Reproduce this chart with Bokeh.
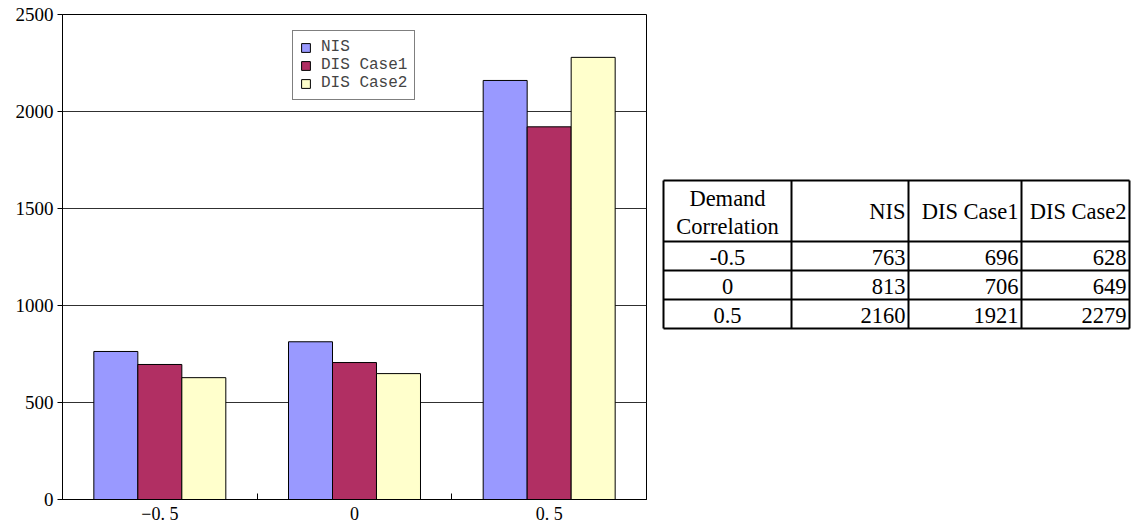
from bokeh.plotting import figure
from bokeh.layouts import row
from bokeh.models import FixedTicker, Legend, LegendItem, ColumnDataSource, Range1d
from bokeh.embed import file_html
from bokeh.resources import INLINE

# Data
categories = ["-0.5", "0", "0.5"]
tick_labels = ["\u22120. 5", "0", "0. 5"]
series_names = ["NIS", "DIS Case1", "DIS Case2"]
nis = [763, 813, 2160]
dis_case1 = [696, 706, 1921]
dis_case2 = [628, 649, 2279]
y_ticks = [0, 500, 1000, 1500, 2000, 2500]

colors = ["#9999FF", "#B12F63", "#FFFFCC"]
axis_font = "Liberation Serif"

# ---- bar chart ----
p = figure(width=660, height=527, output_backend="svg", toolbar_location=None,
           x_range=(0, 3), y_range=(0, 2500),
           min_border_left=62, min_border_right=14, min_border_top=14, min_border_bottom=28)
p.outline_line_color = "black"
p.outline_line_width = 1
p.xgrid.visible = False
p.ygrid.grid_line_color = "#303030"
p.ygrid.grid_line_width = 1
p.ygrid.ticker = FixedTicker(ticks=y_ticks)

bar_w = 0.226
offsets = [-bar_w, 0, bar_w]
centers = [i + 0.5 for i in range(len(categories))]
renderers = []
for vals, off, col in zip([nis, dis_case1, dis_case2], offsets, colors):
    src = ColumnDataSource(dict(x=[c + off for c in centers], top=vals))
    r = p.vbar(x="x", top="top", width=bar_w, source=src, fill_color=col,
               line_color="black", line_width=1)
    renderers.append(r)

# axes
p.xaxis.ticker = FixedTicker(ticks=centers, minor_ticks=[0, 1, 2, 3])
p.xaxis.major_label_overrides = {c: t for c, t in zip(centers, tick_labels)}
p.xaxis.major_tick_line_color = None
p.xaxis.major_tick_in = 0
p.xaxis.major_tick_out = 0
p.xaxis.minor_tick_in = 6
p.xaxis.minor_tick_out = 0
p.xaxis.minor_tick_line_color = "black"
p.xaxis.axis_line_color = "black"
p.xaxis.major_label_text_font = axis_font
p.xaxis.major_label_text_font_size = "18px"
p.xaxis.major_label_text_color = "black"
p.xaxis.major_label_standoff = 4

p.yaxis.ticker = FixedTicker(ticks=y_ticks)
p.yaxis.major_tick_in = 0
p.yaxis.major_tick_out = 5
p.yaxis.minor_tick_line_color = None
p.yaxis.axis_line_color = "black"
p.yaxis.major_tick_line_color = "black"
p.yaxis.major_label_text_font = axis_font
p.yaxis.major_label_text_font_size = "19px"
p.yaxis.major_label_text_color = "black"
p.yaxis.major_label_standoff = 4

legend = Legend(items=[LegendItem(label=n, renderers=[r]) for n, r in zip(series_names, renderers)],
                location=(230, 399), orientation="vertical",
                glyph_width=11, glyph_height=11, label_height=15, spacing=0,
                padding=7, margin=0, label_standoff=10,
                label_text_font="Liberation Mono", label_text_font_size="16px",
                border_line_color="black", border_line_width=1,
                background_fill_alpha=1)
p.add_layout(legend, "center")

# ---- data table (page-pixel coordinates, frame aligned with the chart) ----
t = figure(width=471, height=527, output_backend="svg", toolbar_location=None,
           x_range=Range1d(0, 471), y_range=Range1d(499, 14),
           min_border_left=0, min_border_right=0, min_border_top=14, min_border_bottom=28)
t.axis.visible = False
t.grid.visible = False
t.outline_line_color = None

col_edges = [3, 131, 248, 361, 469]
row_edges = [180, 241, 270, 299, 328]
for x in col_edges:
    t.segment(x0=x, y0=row_edges[0], x1=x, y1=row_edges[-1], line_color="black", line_width=2)
for y in row_edges:
    t.segment(x0=col_edges[0], y0=y, x1=col_edges[-1], y1=y, line_color="black", line_width=2)

tfont = "Liberation Serif"
tsize = "22.5px"
first_cx = (col_edges[0] + col_edges[1]) / 2
hdr_cy = (row_edges[0] + row_edges[1]) / 2
t.text(x=[first_cx, first_cx], y=[hdr_cy - 13, hdr_cy + 15], text=["Demand", "Correlation"],
       text_font=tfont, text_font_size=tsize, text_align="center", text_baseline="middle")
t.text(x=[e - 3 for e in col_edges[2:]], y=[hdr_cy] * 3, text=series_names,
       text_font=tfont, text_font_size=tsize, text_align="right", text_baseline="middle")

row_cy = [(row_edges[i] + row_edges[i + 1]) / 2 + 1 for i in range(1, 4)]
t.text(x=[first_cx] * 3, y=row_cy, text=categories,
       text_font=tfont, text_font_size=tsize, text_align="center", text_baseline="middle")
for j, vals in enumerate([nis, dis_case1, dis_case2]):
    t.text(x=[col_edges[j + 2] - 3] * 3, y=row_cy, text=[str(v) for v in vals],
           text_font=tfont, text_font_size=tsize, text_align="right", text_baseline="middle")

layout = row(p, t)
open("out.html", "w").write(file_html(layout, INLINE))
